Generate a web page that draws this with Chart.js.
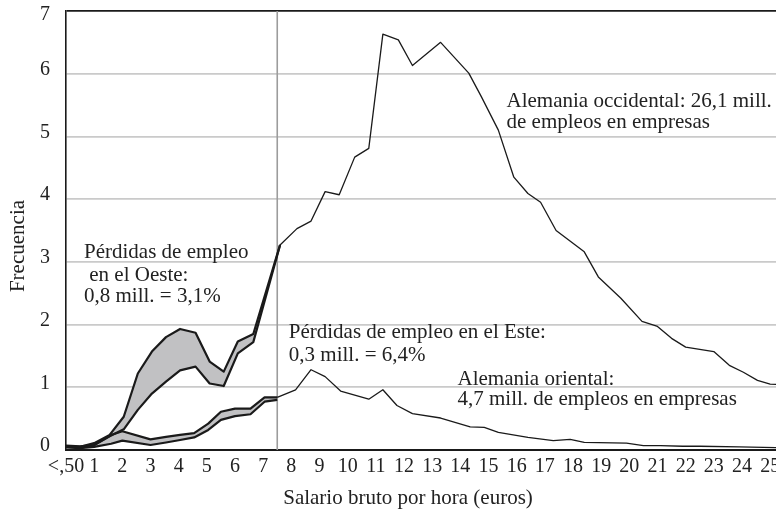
<!DOCTYPE html>
<html>
<head>
<meta charset="utf-8">
<script src="https://cdn.jsdelivr.net/npm/chart.js@4.4.1/dist/chart.umd.min.js"></script>
<style>
  html, body { margin: 0; padding: 0; background: #fff; overflow: hidden; }
  canvas { display: block; }
</style>
</head>
<body>
<canvas id="chart" width="800" height="512"></canvas>
<script>
// tick values / labels
const wageTicks = [0,1,2,3,4,5,6,7,8,9,10,11,12,13,14,15,16,17,18,19,20,21,22,23,24,25];
const wageLabels = ['<,50','1','2','3','4','5','6','7','8','9','10','11','12','13','14','15','16','17','18','19','20','21','22','23','24','25'];
const freqTicks = [0,1,2,3,4,5,6,7];

// Alemania occidental (salario, frecuencia)
const wageWest = [0,0.5,1.0,1.55,2.05,2.55,3.05,3.55,4.05,4.6,5.1,5.6,6.1,6.65,7.6,8.2,8.7,9.2,9.7,10.25,10.75,11.25,11.8,12.3,13.3,14.3,14.75,15.35,15.9,16.4,16.85,17.4,18.4,18.9,19.7,20.45,21.0,21.5,22.0,23.0,23.55,24.05,24.55,25.0,26.1];
const westTotal = [0.06,0.05,0.11,0.24,0.53,1.22,1.57,1.80,1.93,1.87,1.41,1.25,1.73,1.85,3.27,3.53,3.65,4.12,4.07,4.67,4.81,6.63,6.54,6.13,6.5,6.01,5.63,5.10,4.35,4.09,3.95,3.50,3.16,2.76,2.42,2.05,1.97,1.78,1.64,1.57,1.35,1.24,1.11,1.05,1.03];
const westRemaining = [0.05,0.04,0.08,0.22,0.33,0.64,0.90,1.09,1.27,1.33,1.06,1.02,1.54,1.72,3.27];

// Alemania oriental
const wageEast = [0,0.5,1.0,1.6,2.0,3.0,3.55,4.05,4.55,5.05,5.5,6.0,6.55,7.05,7.5,8.15,8.7,9.2,9.75,10.75,11.25,11.75,12.3,13.3,14.35,14.85,15.35,16.4,17.3,17.9,18.4,19.9,20.5,21.1,21.9,22.5,23.9,26.1];
const eastTotal = [0.07,0.06,0.08,0.24,0.30,0.17,0.21,0.24,0.27,0.42,0.61,0.66,0.66,0.84,0.84,0.96,1.28,1.17,0.94,0.81,0.96,0.71,0.58,0.51,0.37,0.36,0.28,0.20,0.15,0.17,0.12,0.11,0.07,0.07,0.06,0.06,0.05,0.03];
const eastRemaining = [0.04,0.03,0.05,0.10,0.15,0.08,0.12,0.16,0.20,0.32,0.48,0.54,0.57,0.77,0.80];

const splitWage = 7.5;

const pts = (xs, ys) => ys.map((y, i) => ({x: xs[i], y: y}));
const nW = westRemaining.length;
const nE = eastRemaining.length;

const ink = '#1a1a1a';
const band = '#c1c1c3';
const font = 'Liberation Serif, Times New Roman, serif';

const lineBase = {pointRadius: 0, tension: 0, borderColor: ink, borderJoinStyle: 'round'};

const datasets = [
  {...lineBase, data: pts(wageWest.slice(0, nW), westTotal.slice(0, nW)), borderWidth: 2.2, fill: false},
  {...lineBase, data: pts(wageWest, westRemaining), borderWidth: 2.2, fill: '-1', backgroundColor: band},
  {...lineBase, data: pts(wageWest.slice(nW - 1), westTotal.slice(nW - 1)), borderWidth: 1.3, fill: false},
  {...lineBase, data: pts(wageEast.slice(0, nE), eastTotal.slice(0, nE)), borderWidth: 2.2, fill: false},
  {...lineBase, data: pts(wageEast, eastRemaining), borderWidth: 2.2, fill: '-1', backgroundColor: band},
  {...lineBase, data: pts(wageEast.slice(nE - 1), eastTotal.slice(nE - 1)), borderWidth: 1.3, fill: false},
  {...lineBase, data: [{x: splitWage, y: 0}, {x: splitWage, y: 7}], borderColor: '#9c9c9c', borderWidth: 1.6, fill: false}
];

// text placed in data coordinates
const notes = [
  {x: 0.64, y: 3.15, text: 'Pérdidas de empleo'},
  {x: 0.64, y: 2.79, text: ' en el Oeste:'},
  {x: 0.64, y: 2.44, text: '0,8 mill. = 3,1%'},
  {x: 7.91, y: 1.88, text: 'Pérdidas de empleo en el Este:'},
  {x: 7.91, y: 1.51, text: '0,3 mill. = 6,4%'},
  {x: 13.9, y: 1.13, text: 'Alemania oriental:'},
  {x: 13.9, y: 0.80, text: '4,7 mill. de empleos en empresas'},
  {x: 15.64, y: 5.56, text: 'Alemania occidental: 26,1 mill.'},
  {x: 15.64, y: 5.22, text: 'de empleos en empresas'}
];

const textPlugin = {
  id: 'notes',
  afterDraw(chart) {
    const {ctx, scales: {x, y}} = chart;
    ctx.save();
    ctx.fillStyle = '#222';
    ctx.font = '21px ' + font;
    ctx.textBaseline = 'middle';
    ctx.textAlign = 'left';
    notes.forEach(n => ctx.fillText(n.text, x.getPixelForValue(n.x), y.getPixelForValue(n.y)));
    // axis titles
    ctx.textAlign = 'center';
    ctx.fillText('Salario bruto por hora (euros)', 408, 498);
    ctx.translate(18, 246);
    ctx.rotate(-Math.PI / 2);
    ctx.fillText('Frecuencia', 0, 0);
    ctx.restore();
  }
};

new Chart(document.getElementById('chart'), {
  type: 'line',
  data: {datasets},
  options: {
    responsive: false,
    animation: false,
    layout: {padding: {top: 11, right: 0, left: 0, bottom: 0}},
    plugins: {
      legend: {display: false},
      tooltip: {enabled: false},
      filler: {drawTime: 'beforeDatasetsDraw'}
    },
    scales: {
      x: {
        type: 'linear',
        min: 0,
        max: 26.06,
        afterFit: s => { s.height = 62; s.paddingLeft = 0; s.paddingRight = 0; },
        afterBuildTicks: s => { s.ticks = wageTicks.map(v => ({value: v})); },
        grid: {color: 'rgba(0,0,0,0)', drawTicks: false},
        border: {color: ink, width: 2},
        ticks: {
          padding: 5,
          color: '#222',
          font: {family: font, size: 20},
          maxRotation: 0,
          autoSkip: false,
          callback: (v) => wageLabels[wageTicks.indexOf(v)]
        }
      },
      y: {
        min: 0,
        max: 7,
        afterFit: s => { s.width = 66; s.paddingTop = 0; s.paddingBottom = 0; },
        afterBuildTicks: s => { s.ticks = freqTicks.map(v => ({value: v})); },
        grid: {
          drawTicks: false,
          lineWidth: 1.8,
          color: c => c.tick.value === 7 ? ink : (c.tick.value === 0 ? 'rgba(0,0,0,0)' : '#cacaca')
        },
        border: {color: ink, width: 1.6},
        ticks: {
          padding: 16,
          labelOffset: -4,
          color: '#222',
          font: {family: font, size: 20, lineHeight: 0.75},
          // top label sits inside the frame, pushed down one half line
          callback: v => v === 7 ? ['', '7'] : String(v)
        }
      }
    }
  },
  plugins: [textPlugin]
});
</script>
</body>
</html>
